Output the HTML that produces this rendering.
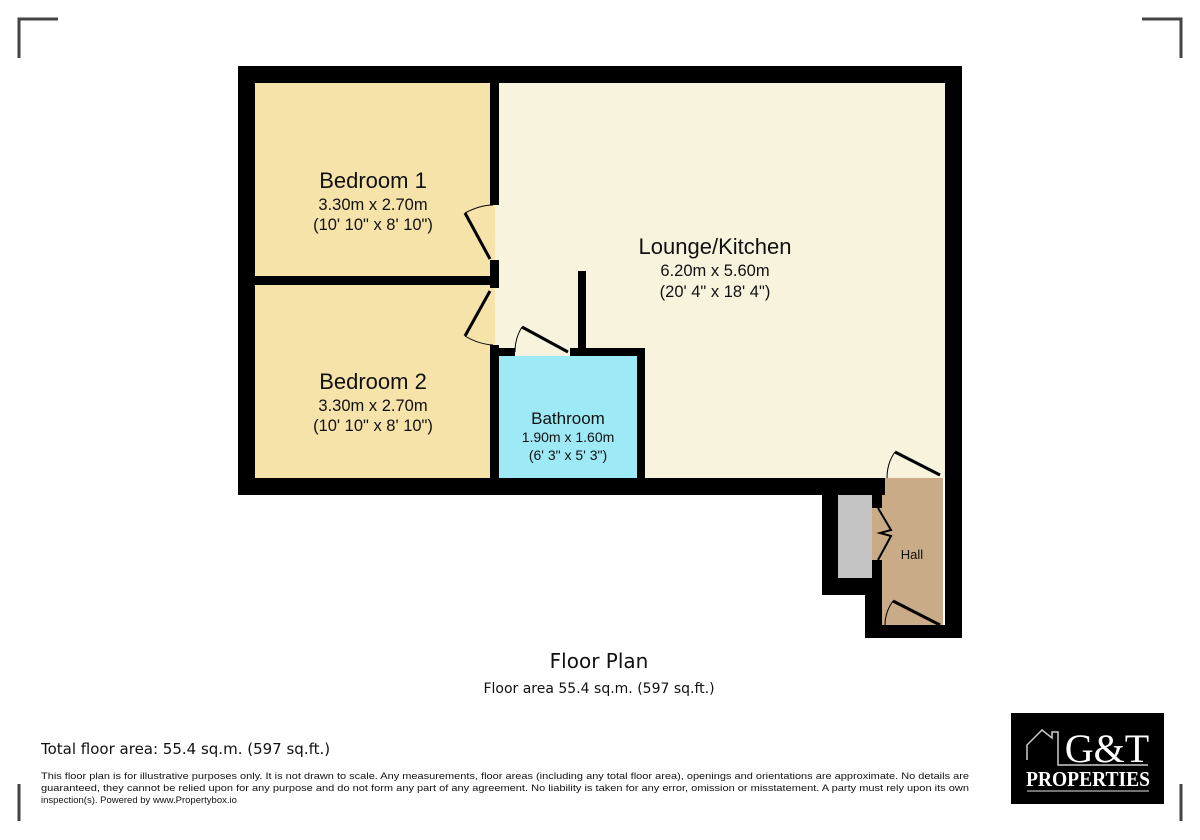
<!DOCTYPE html>
<html><head><meta charset="utf-8"><style>
body{margin:0;background:#fff}
svg{display:block}
text{font-family:"Liberation Sans",Arial,sans-serif;fill:#111}
.v{font-family:"DejaVu Sans",sans-serif}
</style></head><body>
<svg width="1200" height="840" viewBox="0 0 1200 840" xmlns="http://www.w3.org/2000/svg">
<rect width="1200" height="840" fill="#fff"/>
<g stroke="#444" stroke-width="3" fill="none">
<path d="M58 19H19V58"/><path d="M1142 19H1181V58"/>
<path d="M19 784V821"/><path d="M1181 784V821"/>
</g>
<rect x="255" y="83" width="240" height="395" fill="#f6e3aa"/>
<rect x="495" y="83" width="450" height="395" fill="#f8f3dc"/>
<rect x="499" y="356" width="139" height="122" fill="#9ee9f6"/>
<rect x="872" y="478" width="71" height="148" fill="#c9ab87"/>
<rect x="838" y="487" width="34" height="91" fill="#c4c4c4"/>
<g fill="#000">
<rect x="238" y="66" width="724" height="17"/>
<rect x="238" y="66" width="17" height="429"/>
<rect x="945" y="66" width="17" height="572"/>
<rect x="238" y="478" width="647" height="17"/>
<rect x="865" y="625" width="97" height="13"/>
<rect x="822" y="478" width="16" height="117"/>
<rect x="822" y="578" width="60" height="17"/>
<rect x="865" y="578" width="17" height="60"/>
<rect x="872" y="478" width="10" height="30"/>
<rect x="872" y="560" width="10" height="30"/>
<rect x="490" y="83" width="9" height="122"/>
<rect x="490" y="260" width="9" height="28"/>
<rect x="255" y="276" width="244" height="9"/>
<rect x="490" y="345" width="9" height="135"/>
<rect x="490" y="348" width="25" height="8"/>
<rect x="570" y="348" width="75" height="8"/>
<rect x="637" y="348" width="8" height="132"/>
<rect x="578" y="271" width="8" height="80"/>
</g>
<g stroke="#000" fill="none">
<path d="M490 259L465 213" stroke-width="3"/><path d="M465 213Q480 205 493 205" stroke-width="1"/>
<path d="M490 291L465 336" stroke-width="3"/><path d="M465 336Q478 344 493 345" stroke-width="1"/>
<path d="M568 352L522 327" stroke-width="3"/><path d="M522 327Q515 338 515 352" stroke-width="1"/>
<path d="M940 475L895 452" stroke-width="3"/><path d="M895 452Q887 463 887 478" stroke-width="1"/>
<path d="M940 625L893 601" stroke-width="3"/><path d="M893 601Q885 612 885 625" stroke-width="1"/>
<path d="M878 508L891 530L880 533L891 536L878 560" stroke-width="2"/>
</g>
<g text-anchor="middle">
<text x="373" y="188" font-size="22">Bedroom 1</text>
<text x="373" y="210" font-size="16.5">3.30m x 2.70m</text>
<text x="373" y="230" font-size="16.5">(10' 10" x 8' 10")</text>
<text x="373" y="389" font-size="22">Bedroom 2</text>
<text x="373" y="411" font-size="16.5">3.30m x 2.70m</text>
<text x="373" y="431" font-size="16.5">(10' 10" x 8' 10")</text>
<text x="568" y="424" font-size="17">Bathroom</text>
<text x="568" y="442" font-size="14">1.90m x 1.60m</text>
<text x="568" y="460" font-size="14">(6' 3" x 5' 3")</text>
<text x="715" y="254" font-size="22">Lounge/Kitchen</text>
<text x="715" y="276" font-size="16.5">6.20m x 5.60m</text>
<text x="715" y="297" font-size="16.5">(20' 4" x 18' 4")</text>
<text x="912" y="559" font-size="13">Hall</text>
<text x="599" y="668" font-size="20" class="v">Floor Plan</text>
<text x="599" y="693" font-size="14" class="v">Floor area 55.4 sq.m. (597 sq.ft.)</text>
</g>
<text x="41" y="754" font-size="15" class="v">Total floor area: 55.4 sq.m. (597 sq.ft.)</text>
<g font-size="9.5" class="v">
<text x="41" y="779" textLength="928" lengthAdjust="spacingAndGlyphs">This floor plan is for illustrative purposes only. It is not drawn to scale. Any measurements, floor areas (including any total floor area), openings and orientations are approximate. No details are</text>
<text x="41" y="791" textLength="928" lengthAdjust="spacingAndGlyphs">guaranteed, they cannot be relied upon for any purpose and do not form any part of any agreement. No liability is taken for any error, omission or misstatement. A party must rely upon its own</text>
<text x="41" y="803">inspection(s). Powered by www.Propertybox.io</text>
</g>
<rect x="1011" y="713" width="153" height="91" fill="#000"/>
<path d="M1027 760V745L1042 730L1052 738V732H1058V745V765H1148" stroke="#ccc" stroke-width="1.5" fill="none"/>
<text x="1107" y="762" font-size="40" text-anchor="middle" style="font-family:'Liberation Serif',serif;fill:#fff">G&amp;T</text>
<text x="1088" y="786" font-size="21" font-weight="bold" text-anchor="middle" textLength="124" lengthAdjust="spacingAndGlyphs" style="font-family:'Liberation Serif',serif;fill:#fff">PROPERTIES</text>
<path d="M1027 791H1149" stroke="#999" stroke-width="1.5"/>
</svg>
</body></html>
